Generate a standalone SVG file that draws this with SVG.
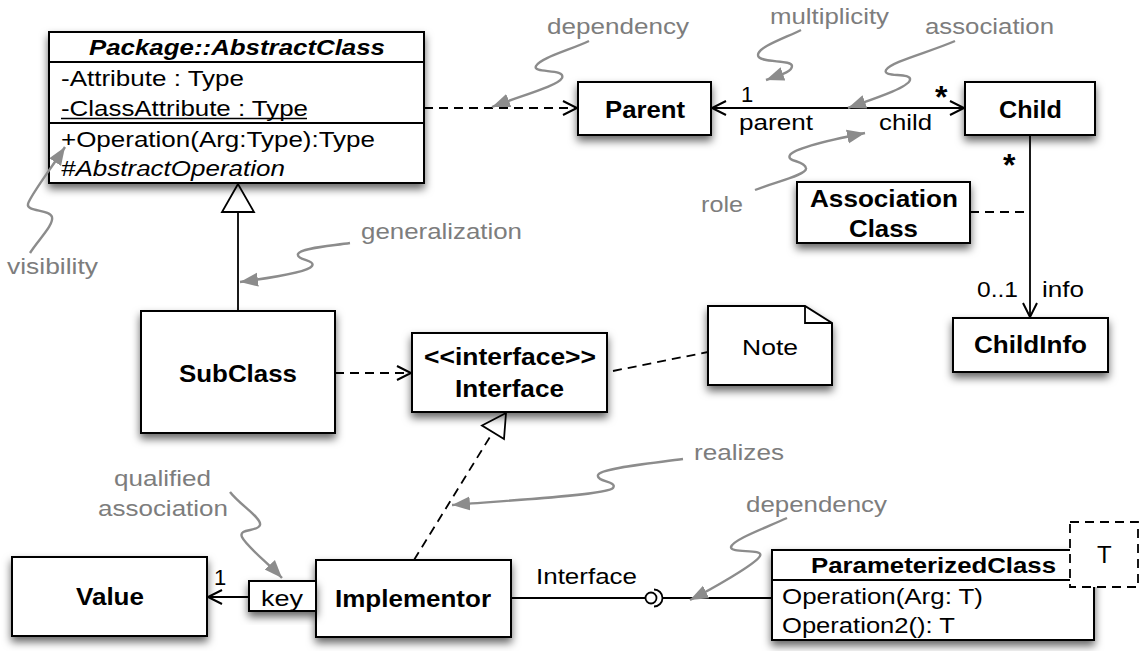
<svg xmlns="http://www.w3.org/2000/svg" width="1143" height="651" viewBox="0 0 1143 651">
<defs>
<filter id="sh" x="-20%" y="-25%" width="140%" height="170%">
<feDropShadow dx="0" dy="5" stdDeviation="4.5" flood-color="#000" flood-opacity="0.6"/>
</filter>
<marker id="oa" markerUnits="userSpaceOnUse" markerWidth="18" markerHeight="18" refX="15" refY="8" orient="auto-start-reverse" viewBox="0 0 18 16">
<path d="M1,1 L15,8 L1,15" fill="none" stroke="#000" stroke-width="2"/>
</marker>
<marker id="ga" markerUnits="userSpaceOnUse" markerWidth="20" markerHeight="16" refX="18" refY="7" orient="auto" viewBox="0 0 20 14">
<path d="M0,0 L18,7 L0,14 Z" fill="#8c8c8c"/>
</marker>
<style>
.box{fill:#fff;stroke:#000;stroke-width:2;filter:url(#sh)}
.sep{stroke:#000;stroke-width:2;fill:none}
.t{font-family:"Liberation Sans",Arial,Helvetica,sans-serif;font-size:22px;fill:#000}
.b{font-weight:bold;font-size:24px}
.g{fill:#7d7d7d}
.ast{font-family:"Liberation Sans",Arial,sans-serif;font-weight:bold;font-size:32px;fill:#000}
.sq{fill:none;stroke:#8c8c8c;stroke-width:2.4;marker-end:url(#ga)}
.ln{fill:none;stroke:#000;stroke-width:1.8}
.dash{stroke-dasharray:9 6}
</style>
</defs>
<rect width="1143" height="651" fill="#fff"/>

<g id="connectors">
<line class="ln dash" x1="424" y1="108" x2="577" y2="108" marker-end="url(#oa)"/>
<line class="ln" x1="712" y1="108" x2="964" y2="108" marker-start="url(#oa)" marker-end="url(#oa)"/>
<line class="ln" x1="1030" y1="135" x2="1030" y2="317" marker-end="url(#oa)"/>
<line class="ln dash" x1="970" y1="212" x2="1030" y2="212"/>
<line class="ln" x1="238" y1="311" x2="238" y2="212"/>
<polygon points="238,184 222,212 254,212" fill="#fff" stroke="#000" stroke-width="1.8"/>
<line class="ln dash" x1="335" y1="373" x2="411" y2="373" marker-end="url(#oa)"/>
<line class="ln dash" x1="613" y1="371" x2="708" y2="352"/>
<line class="ln dash" x1="414" y1="560" x2="493" y2="432"/>
<polygon points="506,413 482,425.5 504,439" fill="#fff" stroke="#000" stroke-width="1.8"/>
<line class="ln" x1="249" y1="597" x2="208" y2="597" marker-end="url(#oa)"/>
<line class="ln" x1="511" y1="598" x2="645" y2="598"/>
<circle cx="651" cy="598" r="5.5" fill="#fff" stroke="#000" stroke-width="1.8"/>
<path class="ln" d="M654,589.5 A8.5,8.5 0 0 1 654,606.5"/>
<line class="ln" x1="662.5" y1="598" x2="772" y2="598"/>
</g>

<g id="AbstractClass">
<rect class="box" x="49" y="32" width="375" height="151"/>
<line class="sep" x1="49" y1="62" x2="424" y2="62"/>
<line class="sep" x1="49" y1="123" x2="424" y2="123"/>
<text class="t b" x="89" y="55" font-style="italic" style="font-size:22px" textLength="296" lengthAdjust="spacingAndGlyphs">Package::AbstractClass</text>
<text class="t" x="61" y="86" textLength="183" lengthAdjust="spacingAndGlyphs">-Attribute : Type</text>
<text class="t" x="61" y="116" textLength="247" lengthAdjust="spacingAndGlyphs">-ClassAttribute : Type</text>
<line x1="61" y1="118.5" x2="307" y2="118.5" stroke="#000" stroke-width="1.5"/>
<text class="t" x="61" y="147" textLength="314" lengthAdjust="spacingAndGlyphs">+Operation(Arg:Type):Type</text>
<text class="t" x="61" y="176" font-style="italic" textLength="224" lengthAdjust="spacingAndGlyphs">#AbstractOperation</text>
</g>

<g id="Parent">
<rect class="box" x="578" y="82" width="133" height="53"/>
<text class="t b" x="605" y="118" textLength="80" lengthAdjust="spacingAndGlyphs">Parent</text>
</g>

<g id="Child">
<rect class="box" x="965" y="82" width="130" height="53"/>
<text class="t b" x="999" y="118" textLength="63" lengthAdjust="spacingAndGlyphs">Child</text>
</g>

<g id="AssociationClass">
<rect class="box" x="797" y="182" width="173" height="61"/>
<text class="t b" x="810" y="207" textLength="148" lengthAdjust="spacingAndGlyphs">Association</text>
<text class="t b" x="849" y="237" textLength="69" lengthAdjust="spacingAndGlyphs">Class</text>
</g>

<g id="ChildInfo">
<rect class="box" x="953" y="318" width="155" height="54"/>
<text class="t b" x="974" y="353" textLength="113" lengthAdjust="spacingAndGlyphs">ChildInfo</text>
</g>

<g id="SubClass">
<rect class="box" x="141" y="311" width="194" height="122"/>
<text class="t b" x="179" y="382" textLength="118" lengthAdjust="spacingAndGlyphs">SubClass</text>
</g>

<g id="Interface">
<rect class="box" x="412" y="333" width="195" height="79"/>
<text class="t b" x="424" y="365" textLength="172" lengthAdjust="spacingAndGlyphs">&lt;&lt;interface&gt;&gt;</text>
<text class="t b" x="455" y="397" textLength="109" lengthAdjust="spacingAndGlyphs">Interface</text>
</g>

<g id="Note">
<path class="box" d="M708,306 H805 L832,323 V385 H708 Z"/>
<path d="M805,306 V323 H832" fill="none" stroke="#000" stroke-width="1.8"/>
<text class="t" x="742" y="355" textLength="56" lengthAdjust="spacingAndGlyphs">Note</text>
</g>

<g id="Value">
<rect class="box" x="12" y="557" width="195" height="79"/>
<text class="t b" x="76" y="605" textLength="68" lengthAdjust="spacingAndGlyphs">Value</text>
</g>

<g id="Implementor">
<rect class="box" x="316" y="560" width="195" height="77"/>
<text class="t b" x="335" y="607" textLength="156" lengthAdjust="spacingAndGlyphs">Implementor</text>
</g>

<g id="key">
<rect class="box" x="249" y="581" width="67" height="30"/>
<text class="t" x="261" y="606" textLength="42" lengthAdjust="spacingAndGlyphs">key</text>
</g>

<g id="ParameterizedClass">
<rect class="box" x="772" y="550" width="322" height="90"/>
<line class="sep" x1="772" y1="580" x2="1094" y2="580"/>
<text class="t b" x="811" y="573" style="font-size:22px" textLength="245" lengthAdjust="spacingAndGlyphs">ParameterizedClass</text>
<text class="t" x="782" y="604" textLength="201" lengthAdjust="spacingAndGlyphs">Operation(Arg: T)</text>
<text class="t" x="782" y="633" textLength="173" lengthAdjust="spacingAndGlyphs">Operation2(): T</text>
<rect x="1070" y="522" width="68" height="65" fill="#fff" stroke="#000" stroke-width="1.8" stroke-dasharray="9 6"/>
<text class="t" x="1097" y="563" style="font-size:24px">T</text>
</g>

<g id="labels">
<text class="t" x="741" y="102">1</text>
<text class="ast" x="935" y="108">*</text>
<text class="t" x="739" y="130" textLength="74" lengthAdjust="spacingAndGlyphs">parent</text>
<text class="t" x="879" y="130" textLength="53" lengthAdjust="spacingAndGlyphs">child</text>
<text class="ast" x="1003" y="176">*</text>
<text class="t" x="977" y="297" textLength="41" lengthAdjust="spacingAndGlyphs">0..1</text>
<text class="t" x="1042" y="297" textLength="42" lengthAdjust="spacingAndGlyphs">info</text>
<text class="t" x="214" y="585">1</text>
<text class="t" x="536" y="584" textLength="101" lengthAdjust="spacingAndGlyphs">Interface</text>
</g>

<g id="callouts">
<path class="sq" d="M589,41 C570,50 540,58 536,66 C532,74 566,68 562,78 C558,86 520,96 492,107"/>
<text class="t g" x="547" y="34" textLength="142" lengthAdjust="spacingAndGlyphs">dependency</text>
<path class="sq" d="M801,30 C785,38 758,47 758,55 C758,64 792,59 792,66 C792,72 780,75 766,80"/>
<text class="t g" x="770" y="24" textLength="119" lengthAdjust="spacingAndGlyphs">multiplicity</text>
<path class="sq" d="M955,41 C930,52 890,62 886,70 C882,78 912,72 910,80 C908,88 870,100 848,108"/>
<text class="t g" x="925" y="34" textLength="129" lengthAdjust="spacingAndGlyphs">association</text>
<path class="sq" d="M755,190 C775,182 808,175 806,168 C804,160 786,162 790,155 C794,148 840,138 865,133"/>
<text class="t g" x="701" y="212" textLength="42" lengthAdjust="spacingAndGlyphs">role</text>
<path class="sq" d="M350,243 C330,246 300,248 298,254 C296,260 316,260 312,266 C308,272 270,278 240,282"/>
<text class="t g" x="361" y="239" textLength="161" lengthAdjust="spacingAndGlyphs">generalization</text>
<path class="sq" d="M30,253 C38,240 54,225 52,217 C50,209 26,212 28,204 C30,196 50,170 65,147"/>
<text class="t g" x="7" y="274" textLength="91" lengthAdjust="spacingAndGlyphs">visibility</text>
<path class="sq" d="M683,459 C655,463 600,468 598,475 C596,482 618,481 613,488 C608,495 500,501 452,505"/>
<text class="t g" x="694" y="460" textLength="90" lengthAdjust="spacingAndGlyphs">realizes</text>
<path class="sq" d="M787,518 C765,528 732,540 731,547 C730,554 764,548 760,556 C756,564 710,590 690,600"/>
<text class="t g" x="746" y="512" textLength="141" lengthAdjust="spacingAndGlyphs">dependency</text>
<path class="sq" d="M230,492 C240,505 262,518 260,525 C258,532 238,528 242,537 C246,546 270,565 282,578"/>
<text class="t g" x="114" y="486" textLength="97" lengthAdjust="spacingAndGlyphs">qualified</text>
<text class="t g" x="98" y="516" textLength="130" lengthAdjust="spacingAndGlyphs">association</text>
</g>
</svg>
